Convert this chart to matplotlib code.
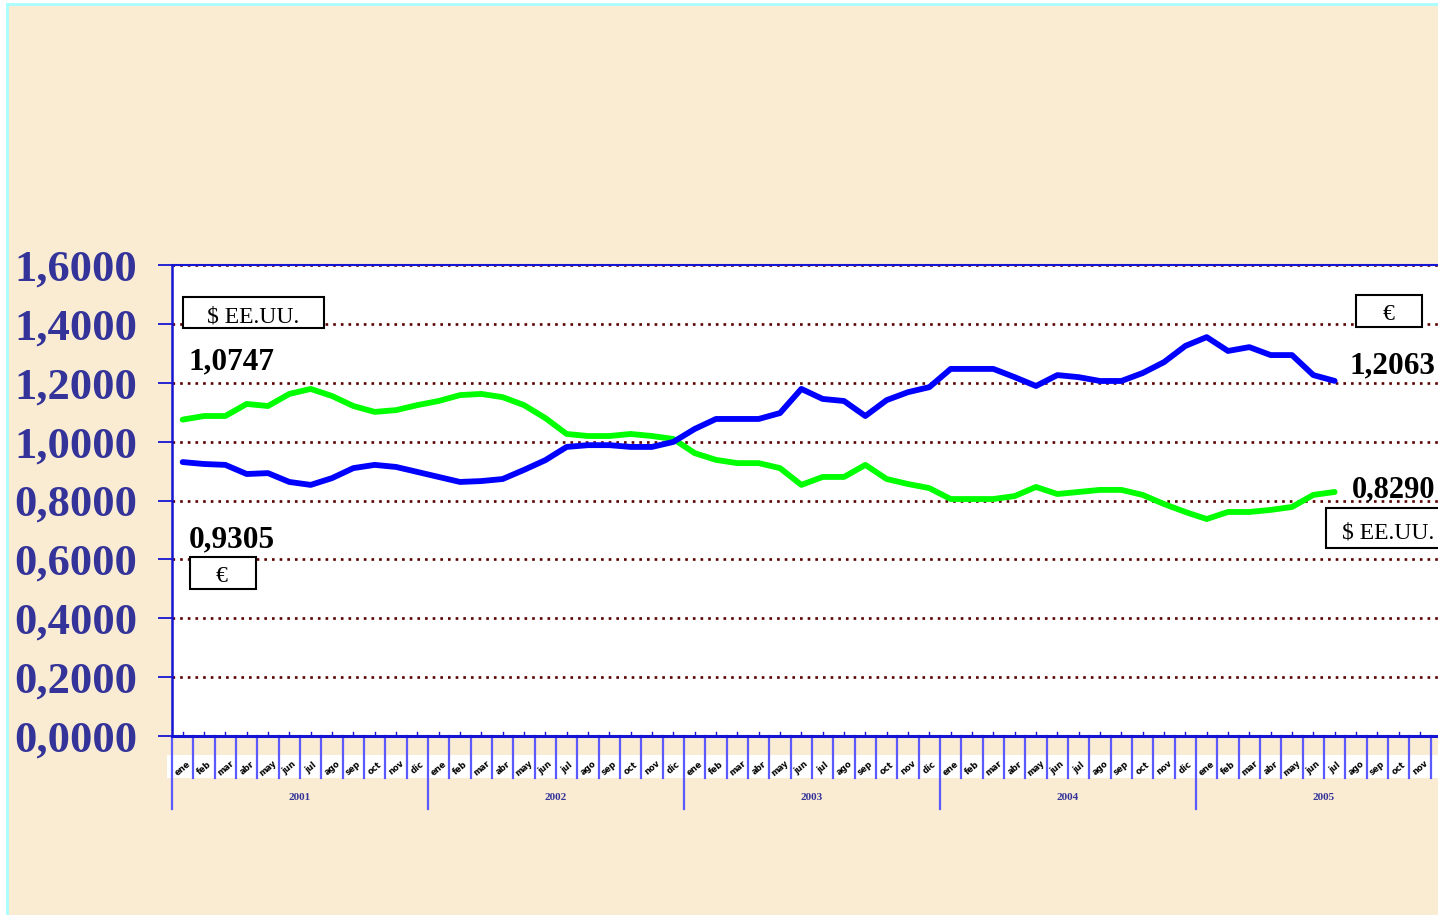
import numpy as np
import matplotlib
matplotlib.use("Agg")
import matplotlib.pyplot as plt
from matplotlib.patches import Rectangle
from matplotlib.lines import Line2D
from matplotlib.transforms import blended_transform_factory

# ---------------- data ----------------
years = ["2001", "2002", "2003", "2004", "2005"]
month_labels = ["ene", "feb", "mar", "abr", "may", "jun",
                "jul", "ago", "sep", "oct", "nov", "dic"]

# USD per EUR (blue, "€")  Jan 2001 .. Jul 2005
euro = [0.9305, 0.924, 0.921, 0.890, 0.893, 0.863, 0.853, 0.876, 0.910, 0.921,
        0.914, 0.897, 0.880, 0.863, 0.866, 0.873, 0.904, 0.937, 0.982, 0.988,
        0.988, 0.982, 0.982, 0.999, 1.043, 1.077, 1.077, 1.077, 1.097, 1.179,
        1.145, 1.138, 1.087, 1.141, 1.168, 1.185, 1.247, 1.247, 1.247, 1.219,
        1.189, 1.226, 1.219, 1.206, 1.206, 1.233, 1.270, 1.325, 1.355, 1.308,
        1.321, 1.294, 1.294, 1.226, 1.2063]

# EUR per USD (green, "$ EE.UU.")
dolar = [1.0747, 1.087, 1.087, 1.128, 1.121, 1.162, 1.179, 1.155, 1.121, 1.101,
         1.107, 1.124, 1.138, 1.158, 1.162, 1.151, 1.124, 1.080, 1.026, 1.019,
         1.019, 1.026, 1.019, 1.009, 0.961, 0.938, 0.927, 0.927, 0.910, 0.853,
         0.880, 0.880, 0.921, 0.873, 0.856, 0.842, 0.805, 0.805, 0.805, 0.815,
         0.846, 0.822, 0.829, 0.836, 0.836, 0.819, 0.788, 0.761, 0.737, 0.761,
         0.761, 0.768, 0.778, 0.819, 0.8290]

yticks = [0.0, 0.2, 0.4, 0.6, 0.8, 1.0, 1.2, 1.4, 1.6]

# ---------------- figure ----------------
W, H = 1438, 915
fig = plt.figure(figsize=(W / 100, H / 100), dpi=100, facecolor="white")
SERIF = "Liberation Serif"


def fx(px):
    return px / W


def fy(py):
    return 1 - py / H


# parchment background with cyan edge
fig.patches.append(Rectangle((fx(7), 0), 1 - fx(7), fy(5), transform=fig.transFigure,
                             facecolor="#FAECD3", edgecolor="none", zorder=-10))
fig.lines.append(Line2D([fx(7), fx(7)], [0, fy(4)], transform=fig.transFigure,
                        color="#A8FFFF", lw=2, zorder=-9))
fig.lines.append(Line2D([fx(7), 1], [fy(4), fy(4)], transform=fig.transFigure,
                        color="#A8FFFF", lw=2, zorder=-9))

ax_left, ax_right, ax_top, ax_bot = 172, 1452, 265, 736
ax = fig.add_axes([fx(ax_left), fy(ax_bot), (ax_right - ax_left) / W, (ax_bot - ax_top) / H])
ax.set_facecolor("white")
n_months = 60
ax.set_xlim(0, n_months)
ax.set_ylim(0, 1.6)

AXBLUE = "#1414D2"
ax.spines["right"].set_visible(False)
ax.spines["left"].set_color(AXBLUE)
ax.spines["left"].set_linewidth(1.8)
ax.spines["top"].set_color(AXBLUE)
ax.spines["top"].set_linewidth(1.5)
ax.spines["bottom"].set_color(AXBLUE)
ax.spines["bottom"].set_linewidth(2.2)

ax.set_yticks(yticks)
ax.set_yticklabels([f"{v:.4f}".replace(".", ",") for v in yticks],
                   fontfamily=SERIF, fontweight="bold", fontsize=32, color="#333399")
ax.tick_params(axis="y", direction="out", length=10, width=1.3, color=AXBLUE, pad=15)
ax.set_xticks([])

# dotted gridlines
for v in yticks[1:]:
    ax.axhline(v, color="#5A0000", lw=1.9, ls=(0, (1.0, 1.9)), zorder=1, clip_on=False)

# lines
x = np.arange(len(euro)) + 0.5
ax.plot(x, dolar, color="#00FF00", lw=4.2, solid_joinstyle="round",
        solid_capstyle="round", zorder=3)
ax.plot(x, euro, color="#0000FF", lw=4.2, solid_joinstyle="round",
        solid_capstyle="round", zorder=4)

# x axis decoration
trans = blended_transform_factory(ax.transData, ax.transAxes)
axh = ax_bot - ax_top


def ay(py):
    return (ax_bot - py) / axh


ax.add_patch(Rectangle((-0.25, ay(778)), n_months + 1, ay(755) - ay(778), transform=trans,
                       facecolor="white", edgecolor="none", clip_on=False, zorder=0.5))
for k in range(n_months + 1):
    bottom = ay(809) if k % 12 == 0 else ay(778)
    ax.plot([k, k], [0, bottom], transform=trans, color="#5A5AFF", lw=1.6,
            clip_on=False, zorder=2)
for i in range(n_months):
    ax.plot([i + 0.5, i + 0.5], [0, ay(732)], transform=trans, color=AXBLUE, lw=1,
            clip_on=False, zorder=2)
    if i < n_months - 1:
        ax.text(i + 0.5, ay(768), month_labels[i % 12], transform=trans, rotation=40,
                ha="center", va="center", fontsize=6, fontweight="bold", color="black",
                fontfamily="DejaVu Sans", clip_on=False, zorder=3)
for j, yr in enumerate(years):
    ax.text(12 * j + 6, ay(798), yr, transform=trans, ha="center", va="center",
            fontsize=8, fontweight="bold", color="#333399", fontfamily=SERIF,
            clip_on=False)

# value labels
for txt, px, py, fs in [("1,0747", 189, 369, 22.5), ("0,9305", 189, 547, 22.5),
                        ("1,2063", 1349, 373, 22.5), ("0,8290", 1352, 497, 22)]:
    fig.text(fx(px), fy(py), txt, ha="left", va="baseline", fontsize=fs,
             fontweight="bold", fontfamily=SERIF, color="black", zorder=5)

# boxed legends
for txt, x0, x1, y0, y1, cx, base in [("$ EE.UU.", 183, 324, 297, 328, 253, 322),
                                       ("€", 190, 256, 557, 589, 222, 582),
                                       ("€", 1356, 1422, 295, 327, 1389, 320),
                                       ("$ EE.UU.", 1326, 1468, 508, 548, 1388, 539)]:
    fig.patches.append(Rectangle((fx(x0), fy(y1)), (x1 - x0) / W, (y1 - y0) / H,
                                 transform=fig.transFigure, facecolor="white",
                                 edgecolor="black", lw=1.5, zorder=4))
    fig.text(fx(cx), fy(base), txt, ha="center", va="baseline", fontsize=17,
             fontfamily=SERIF, color="black", zorder=5)

fig.savefig("out.png", dpi=100, facecolor=fig.get_facecolor())
